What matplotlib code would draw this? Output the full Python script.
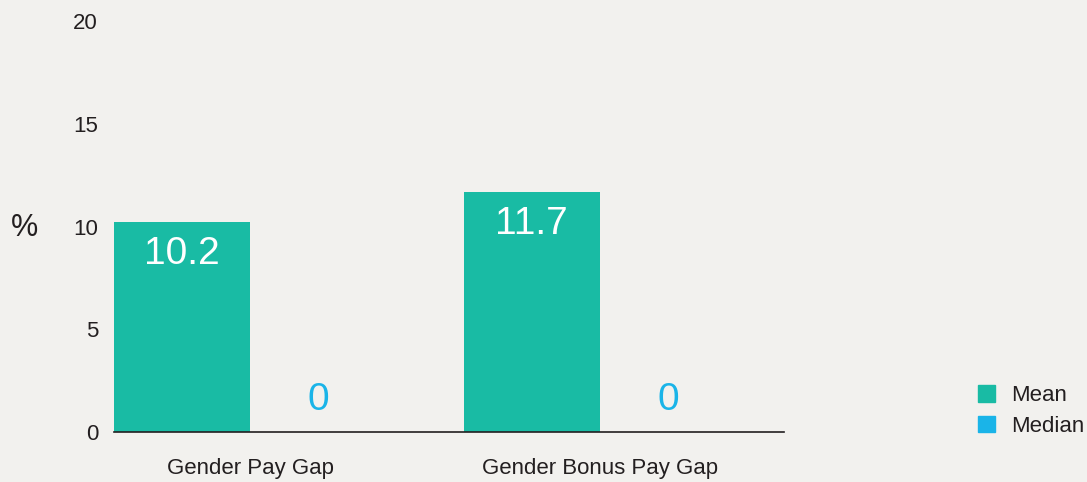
import matplotlib
matplotlib.use("Agg")
import matplotlib.pyplot as plt
from matplotlib.patches import Patch
import numpy as np

categories = ["Gender Pay Gap", "Gender Bonus Pay Gap"]
mean_vals = [10.2, 11.7]
median_vals = [0, 0]
yticks = [0, 5, 10, 15, 20]

bg = "#F2F1EE"
teal = "#19BBA4"
blue = "#1AB4E8"
txt = "#231F20"

plt.rcParams['font.family'] = ['Liberation Sans', 'DejaVu Sans']

fig = plt.figure(figsize=(10.87, 4.82), dpi=100, facecolor=bg)
ax = fig.add_axes([114/1087, 1-432/482, (784-114)/1087, (432-21)/482], facecolor=bg)

x = np.arange(len(categories))
w = 0.39
b1 = ax.bar(x - w/2, mean_vals, w, color=teal, label="Mean")
b2 = ax.bar(x + w/2, median_vals, w, color=blue, label="Median")

for rect, v in zip(b1, mean_vals):
    ax.annotate(f"{v:g}", (rect.get_x() + rect.get_width()/2, v),
                xytext=(0, -23), textcoords="offset points",
                ha="center", va="center", color="white", fontsize=28)
for rect, v in zip(b2, median_vals):
    ax.annotate(f"{v:g}", (rect.get_x() + rect.get_width()/2, v),
                xytext=(0, 23), textcoords="offset points",
                ha="center", va="center", color=blue, fontsize=28)

ax.set_xlim(-0.389, 1.526)
ax.set_ylim(0, 20)
ax.set_yticks(yticks)
ax.set_yticklabels([str(t) for t in yticks], fontsize=16, color=txt)
ax.set_xticks(x)
ax.set_xticklabels(categories, fontsize=16, color=txt)
ax.tick_params(axis='y', length=0, pad=11.5)
ax.tick_params(axis='x', length=0, pad=19)
for s in ["top", "right", "left"]:
    ax.spines[s].set_visible(False)
ax.spines["bottom"].set_color(txt)
ax.spines["bottom"].set_linewidth(1.2)

fig.text(24/1087, 1-228/482, "%", fontsize=22, color=txt, ha="center", va="center")

handles = [Patch(color=teal, label="Mean"), Patch(color=blue, label="Median")]
fig.legend(handles=handles, loc="center left", bbox_to_anchor=(978/1087, 1-411/482),
           frameon=False, fontsize=16, handlelength=0.75, handleheight=0.75,
           handletextpad=0.75, labelspacing=0.42, labelcolor=txt,
           borderpad=0, borderaxespad=0)

fig.savefig("out.png", dpi=100, facecolor=bg)
